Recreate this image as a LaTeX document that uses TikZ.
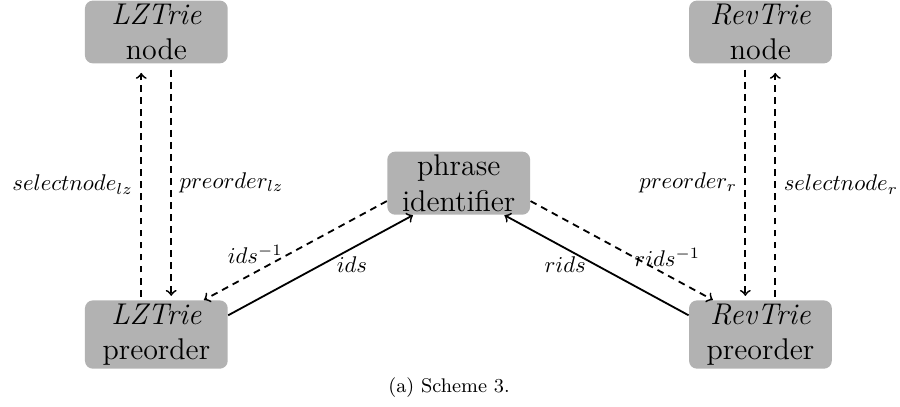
\documentclass[tikz,border=0pt]{standalone}

\tikzset{
  box/.style  = {rectangle, rounded corners=3.5pt, fill=gray!60, align=center,
                 minimum width=2.21cm, inner ysep=1.5pt,
                 font=\fontsize{13.2pt}{15.5pt}\selectfont},
  link/.style = {->, line width=0.8pt},
  back/.style = {link, dash pattern=on 3pt off 2.3pt}
}

\begin{document}
\begin{tikzpicture}[>=to]
\useasboundingbox (0,0) rectangle (13.93,6.285);

% the five boxes
\node[box] (lznode)  at (2.42,5.79)  {\textit{LZTrie}\\node};
\node[box] (revnode) at (11.77,5.79) {\textit{RevTrie}\\node};
\node[box] (phrase)  at (7.10,3.45)  {phrase\\identifier};
\node[box] (lzpre)   at (2.42,1.107) {\textit{LZTrie}\\preorder};
\node[box] (revpre)  at (11.77,1.107) {\textit{RevTrie}\\preorder};

% LZTrie side, up and down
\draw[back] ([xshift=-0.234cm,yshift=1.5pt]lzpre.north) -- ([xshift=-0.234cm,yshift=-4pt]lznode.south)
  node[midway, left] {$selectnode_{lz}$};
\draw[back] ([xshift=0.23cm,yshift=-2.6pt]lznode.south) -- ([xshift=0.23cm,yshift=1.8pt]lzpre.north)
  node[midway, right] {$preorder_{lz}$};

% RevTrie side, up and down
\draw[back] ([xshift=-0.234cm,yshift=-2.6pt]revnode.south) -- ([xshift=-0.234cm,yshift=1.8pt]revpre.north)
  node[midway, left] {$preorder_r$};
\draw[back] ([xshift=0.23cm,yshift=1.5pt]revpre.north) -- ([xshift=0.23cm,yshift=-4pt]revnode.south)
  node[midway, right] {$selectnode_r$};

% to and from the phrase identifier
\draw[link] (lzpre.15) -- (phrase.215) node[pos=0.67, below] {$ids$};
\draw[back] (phrase.194) -- (lzpre.36) node[pos=0.72, above] {$ids^{-1}$};
\draw[link] (revpre.165) -- (phrase.325) node[pos=0.67, below] {$rids$};
\draw[back] (phrase.346) -- (revpre.144) node[pos=0.75, above] {$rids^{-1}$};

\node[font=\fontsize{8.7pt}{10pt}\selectfont] (caption) at (6.95,0.28) {(a) Scheme 3.};
\end{tikzpicture}
\end{document}
